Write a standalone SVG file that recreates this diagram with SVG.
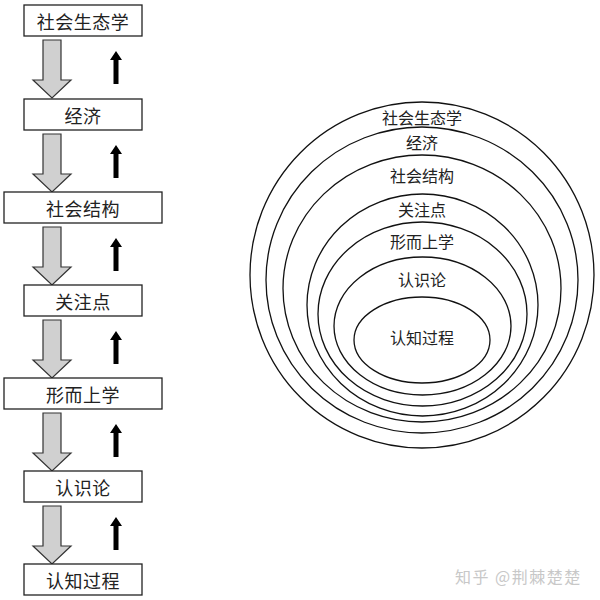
<svg xmlns="http://www.w3.org/2000/svg" width="600" height="600" viewBox="0 0 600 600">
<defs>
<style>
.box{fill:#fff;stroke:#222;stroke-width:1.3}
.t{font-family:"Noto Sans CJK SC","Noto Sans",sans-serif;fill:#222;text-anchor:middle;dominant-baseline:central}
.bt{font-size:18px;letter-spacing:0.5px}
.et{font-size:16px}
.ell{fill:none;stroke:#111;stroke-width:1.3}
.ga{fill:#d0d0d0;stroke:#333;stroke-width:1.2;stroke-linejoin:miter}
.ba{fill:#000}
</style>
<path id="gray" class="ga" d="M43,0 L61,0 L61,40 L71,40 L52,58 L33,40 L43,40 Z"/>
<path id="blk" class="ba" d="M116,0 L122,9 L118.5,9 L118.5,33 L113.5,33 L113.5,9 L110,9 Z"/>
</defs>
<rect width="600" height="600" fill="#fff"/>

<g id="connectors">
<use href="#gray" y="40"/>
<use href="#gray" y="134"/>
<use href="#gray" y="227"/>
<use href="#gray" y="320"/>
<use href="#gray" y="413"/>
<use href="#gray" y="506"/>
<use href="#blk" y="51"/>
<use href="#blk" y="145"/>
<use href="#blk" y="238"/>
<use href="#blk" y="331"/>
<use href="#blk" y="424"/>
<use href="#blk" y="517"/>
</g>

<g id="box-shengtai"><rect class="box" x="24" y="5" width="118" height="31"/><text class="t bt" x="83" y="20.5">社会生态学</text></g>
<g id="box-jingji"><rect class="box" x="24" y="99" width="118" height="31"/><text class="t bt" x="83" y="114.5">经济</text></g>
<g id="box-jiegou"><rect class="box" x="4" y="192" width="158" height="31"/><text class="t bt" x="83" y="207.5">社会结构</text></g>
<g id="box-guanzhu"><rect class="box" x="24" y="285" width="118" height="31"/><text class="t bt" x="83" y="300.5">关注点</text></g>
<g id="box-xingershang"><rect class="box" x="4" y="378" width="158" height="31"/><text class="t bt" x="83" y="393.5">形而上学</text></g>
<g id="box-renshilun"><rect class="box" x="24" y="471" width="118" height="31"/><text class="t bt" x="83" y="486.5">认识论</text></g>
<g id="box-renzhi"><rect class="box" x="24" y="564" width="118" height="31"/><text class="t bt" x="83" y="579.5">认知过程</text></g>

<g id="ell-shengtai"><ellipse class="ell" cx="422" cy="275" rx="172" ry="173"/><text class="t et" x="422" y="117">社会生态学</text></g>
<g id="ell-jingji"><ellipse class="ell" cx="422" cy="280" rx="156" ry="153"/><text class="t et" x="422" y="142">经济</text></g>
<g id="ell-jiegou"><ellipse class="ell" cx="422" cy="288.5" rx="139" ry="133.5"/><text class="t et" x="422" y="175">社会结构</text></g>
<g id="ell-guanzhu"><ellipse class="ell" cx="422.5" cy="305" rx="115.5" ry="111"/><text class="t et" x="422" y="209">关注点</text></g>
<g id="ell-xingershang"><ellipse class="ell" cx="422.5" cy="314" rx="104.5" ry="92"/><text class="t et" x="422" y="241">形而上学</text></g>
<g id="ell-renshilun"><ellipse class="ell" cx="422.5" cy="326" rx="88.5" ry="69"/><text class="t et" x="422" y="279">认识论</text></g>
<g id="ell-renzhi"><ellipse class="ell" cx="422" cy="340" rx="68" ry="43"/><text class="t et" x="422" y="337">认知过程</text></g>

<text x="455" y="576" font-family="Noto Sans CJK SC, sans-serif" font-size="16" letter-spacing="1.5" fill="#c8c8c8" dominant-baseline="central">知乎 @荆棘楚楚</text>
</svg>
